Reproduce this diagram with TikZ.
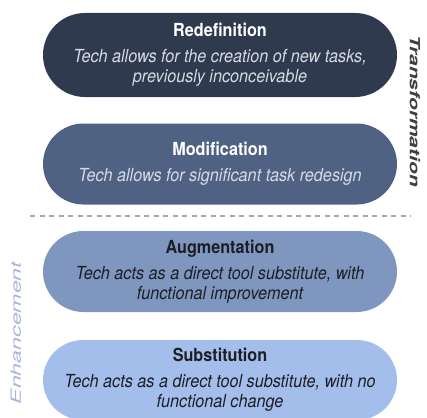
\documentclass[tikz,border=0pt]{standalone}
\usepackage{fontspec}
\setmainfont{TeX Gyre Heros}
\newfontfamily\pillfont[FakeStretch=0.9]{TeX Gyre Heros}
\newfontfamily\sidefont[FakeStretch=1.5]{TeX Gyre Heros}
\newfontfamily\sidefontb[FakeStretch=1.65]{TeX Gyre Heros}
\usepackage{tikz}
\usetikzlibrary{positioning,shapes.misc}

\definecolor{redefcol}{HTML}{2F3A4F}
\definecolor{modifcol}{HTML}{4F6283}
\definecolor{augmcol}{HTML}{7F97BF}
\definecolor{substcol}{HTML}{A4BEEB}
\definecolor{darktxt}{HTML}{1C1E26}
\definecolor{lighttxt}{HTML}{D6DAE2}
\definecolor{transcol}{HTML}{3F3F3F}
\definecolor{enhcol}{HTML}{A9B5D6}

\tikzset{
  pill/.style={rounded rectangle, minimum width=354pt, inner sep=0pt,
    align=center, font=\pillfont\fontsize{18}{20}\selectfont},
  sidelabel/.style={inner sep=0pt}
}
\newcommand{\ttl}[1]{{\bfseries #1}\\[6pt]}

\begin{document}
\begin{tikzpicture}[x=1pt,y=-1pt]
	\useasboundingbox (0,0) rectangle (427,417);
	% transformation
	\node[pill,fill=redefcol,minimum height=84pt,text=lighttxt] (redef) at (220,55)
	{\ttl{\color{white}Redefinition}\itshape Tech allows for the creation of new tasks,\\ \itshape previously inconceivable};
	\node[pill,fill=modifcol,minimum height=81pt,text=lighttxt] (modif) at (220,164)
	{\ttl{\color{white}Modification}\itshape Tech allows for significant task redesign};
	% separator
	\coordinate (sepL) at (30,216);
	\coordinate (sepR) at (411,216);
	\draw[gray!70,line width=1.2pt,dash pattern=on 5pt off 4.5pt] (sepL) -- (sepR);
	% enhancement
	\node[pill,fill=augmcol,minimum height=81pt,text=darktxt] (augm) at (220,271.5)
	{\ttl{Augmentation}\itshape Tech acts as a direct tool substitute, with\\ \itshape functional improvement};
	\node[pill,fill=substcol,minimum height=80pt,text=darktxt] (subst) at (220,380)
	{\ttl{Substitution}\itshape Tech acts as a direct tool substitute, with no\\ \itshape functional change};
	% side labels
	\node[sidelabel,rotate=-90,text=transcol,font=\sidefont\fontsize{14}{14}\selectfont\bfseries\itshape] (trans) at (415,111) {Transformation};
	\node[sidelabel,rotate=90,text=enhcol,font=\sidefontb\fontsize{14}{14}\selectfont\itshape] (enh) at (16,333) {Enhancement};
\end{tikzpicture}
\end{document}
